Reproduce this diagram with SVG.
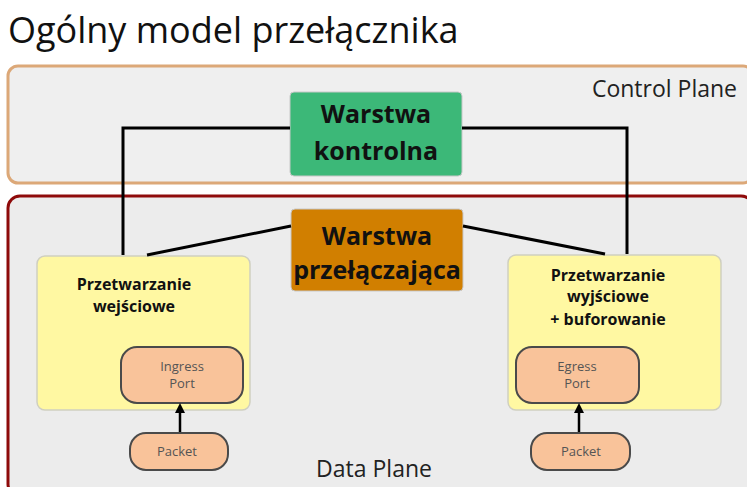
<svg xmlns="http://www.w3.org/2000/svg" width="747" height="487" viewBox="0 0 747 487">
<defs>
<style>
.plane{font-family:"Open Sans","DejaVu Sans",sans-serif;font-size:23px;fill:#222}
.big{font-family:"Open Sans","DejaVu Sans",sans-serif;font-weight:bold;font-size:25px;fill:#111;text-anchor:middle}
.mid{font-family:"Open Sans","DejaVu Sans",sans-serif;font-weight:bold;font-size:16px;fill:#111;text-anchor:middle}
.sm{font-family:"Open Sans","DejaVu Sans",sans-serif;font-size:13px;fill:#555;text-anchor:middle}
.port{fill:#f9c39a;stroke:#4a4a4a;stroke-width:2}
.proc{fill:#fff8a2;stroke:#cfcfc0;stroke-width:1.5}
.conn{stroke:#000;stroke-width:3;fill:none}
.head{fill:#000}
</style>
</defs>
<rect width="747" height="487" fill="#fff"/>
<text x="8" y="43" font-family="'Open Sans','DejaVu Sans',sans-serif" font-size="36" fill="#111">Ogólny model przełącznika</text>
<g id="control-plane">
<rect x="8" y="66" width="745" height="117" rx="10" fill="#efefef" stroke="#dca878" stroke-width="3"/>
<text class="plane" x="737" y="97" text-anchor="end">Control Plane</text>
</g>
<g id="data-plane">
<rect x="8" y="196" width="745" height="300" rx="12" fill="#ececec" stroke="#8e0a0a" stroke-width="3"/>
<text class="plane" x="374" y="477" text-anchor="middle">Data Plane</text>
</g>
<g id="warstwa-kontrolna">
<rect x="290" y="92" width="172" height="84" rx="4" fill="#3cb878" stroke="#c8c8c8" stroke-width="1"/>
<text class="big" x="376" y="123">Warstwa</text>
<text class="big" x="376" y="160">kontrolna</text>
</g>
<g id="warstwa-przelaczajaca">
<rect x="291" y="209" width="172" height="82" rx="4" fill="#d17f00" stroke="#c8c8c8" stroke-width="1"/>
<text class="big" x="377" y="245">Warstwa</text>
<text class="big" x="377" y="279" font-size="24">przełączająca</text>
</g>
<g id="przetwarzanie-wejsciowe">
<rect class="proc" x="37" y="256" width="213" height="154" rx="8"/>
<text class="mid" x="134" y="290">Przetwarzanie</text>
<text class="mid" x="134" y="312">wejściowe</text>
</g>
<g id="ingress-port">
<rect class="port" x="121" y="347" width="122" height="56" rx="16"/>
<text class="sm" x="182" y="371">Ingress</text>
<text class="sm" x="182" y="388">Port</text>
</g>
<g id="packet-in">
<rect class="port" x="130" y="433" width="98" height="37" rx="16"/>
<text class="sm" x="177" y="456">Packet</text>
</g>
<g id="przetwarzanie-wyjsciowe">
<rect class="proc" x="508" y="255" width="213" height="155" rx="8"/>
<text class="mid" x="608" y="281">Przetwarzanie</text>
<text class="mid" x="608" y="302">wyjściowe</text>
<text class="mid" x="608" y="325">+ buforowanie</text>
</g>
<g id="egress-port">
<rect class="port" x="516" y="347" width="123" height="56" rx="16"/>
<text class="sm" x="577" y="371">Egress</text>
<text class="sm" x="577" y="388">Port</text>
</g>
<g id="packet-out">
<rect class="port" x="531" y="433" width="99" height="37" rx="16"/>
<text class="sm" x="581" y="456">Packet</text>
</g>
<g id="connectors">
<polyline class="conn" points="290,128 123,128 123,255"/>
<polyline class="conn" points="462,128 627,128 627,254"/>
<line class="conn" x1="291" y1="226" x2="147" y2="255"/>
<line class="conn" x1="463" y1="226" x2="605" y2="254"/>
<line stroke="#000" stroke-width="2.5" x1="180" y1="432" x2="180" y2="410"/>
<polygon class="head" points="180,403 175,413 185,413"/>
<line stroke="#000" stroke-width="2.5" x1="579" y1="432" x2="579" y2="410"/>
<polygon class="head" points="579,403 574,413 584,413"/>
</g>
</svg>
